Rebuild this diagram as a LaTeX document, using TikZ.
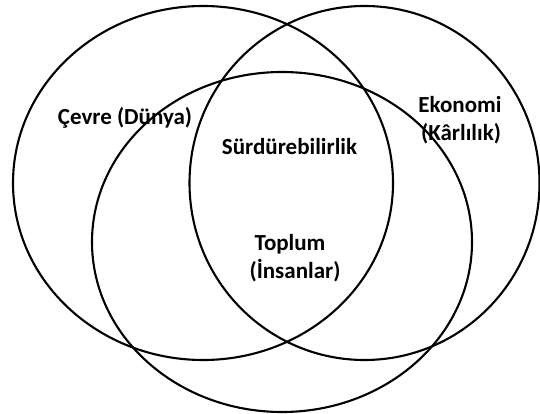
\documentclass[tikz,border=0pt]{standalone}
\usepackage{fontspec}
\setmainfont{Carlito}
\begin{document}
\begin{tikzpicture}[x=1pt,y=-1pt,
  ring/.style={draw=black,line width=2.1pt},
  lbl/.style={font=\fontsize{23}{28}\selectfont\bfseries,inner sep=0pt,anchor=base}]
\useasboundingbox (0,0) rectangle (540,414);
\draw[ring] (203,183) ellipse [x radius=190,y radius=177];
\draw[ring] (364.5,183) ellipse [x radius=175,y radius=177];
\draw[ring] (282,242) ellipse [x radius=190,y radius=170];
\node[lbl] (cevre) at (125,125) {Çevre (Dünya)};
\node[lbl] (surd) at (289.5,155) {Sürdürebilirlik};
\node[lbl] (eko1) at (460,113) {Ekonomi};
\node[lbl] (eko2) at (461,141) {(Kârlılık)};
\node[lbl] (top1) at (290,250) {Toplum};
\node[lbl] (top2) at (295,278) {(İnsanlar)};
\end{tikzpicture}
\end{document}
